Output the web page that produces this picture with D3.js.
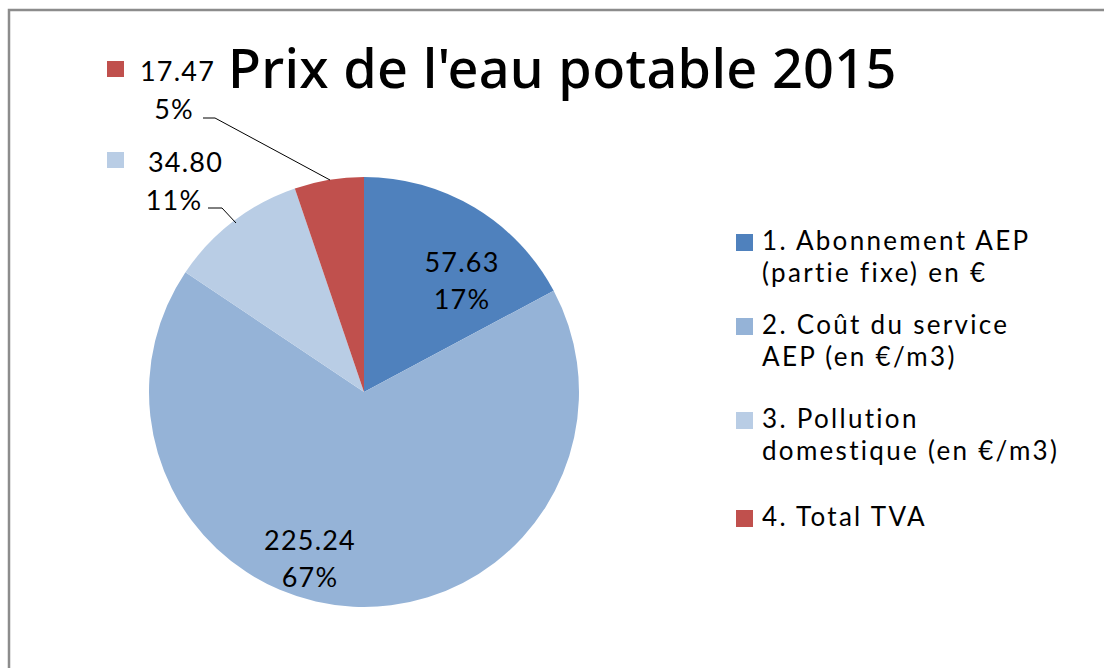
<!DOCTYPE html>
<html><head><meta charset="utf-8">
<script src="https://cdn.jsdelivr.net/npm/d3@7"></script>
<style>body{margin:0;background:#fff}text{font-family:Lato,"Noto Sans",sans-serif;fill:#000}</style>
</head><body>
<svg id="c" width="1104" height="668"></svg>
<script>
const title = "Prix de l'eau potable 2015";
const categories = ["1. Abonnement AEP|(partie fixe) en €", "2. Coût du service|AEP (en €/m3)", "3. Pollution|domestique (en €/m3)", "4. Total TVA"];
const values = [57.63, 225.24, 34.80, 17.47];
const valueLabels = ["57.63", "225.24", "34.80", "17.47"];
const pctLabels = ["17%", "67%", "11%", "5%"];
const colors = ["#4F81BD", "#95B3D7", "#B9CDE5", "#C0504D"];

const svg = d3.select("#c");
svg.append("rect").attr("x", 9).attr("y", 10).attr("width", 1200).attr("height", 800)
  .attr("fill", "#fff").attr("stroke", "#8c8c8c").attr("stroke-width", 2.5);

svg.append("text").attr("x", 228).attr("y", 88).attr("font-size", 54).attr("font-weight", 500)
  .style("font-family", "'Noto Sans',sans-serif").attr("letter-spacing", 0.3)
  .text(title);

const cx = 364, cy = 392, R = 215;
const pie = d3.pie().sort(null).value(d => d)(values);
const arc = d3.arc().innerRadius(0).outerRadius(R);
const g = svg.append("g").attr("transform", `translate(${cx},${cy})`);
g.selectAll("path").data(pie).join("path").attr("d", arc).attr("fill", (d, i) => colors[i]);

const fs = 27, ls = 1.2;
// inside labels
const inside = [
  {i: 0, x: 462, y: 272},
  {i: 1, x: 310, y: 550}
];
inside.forEach(o => {
  svg.append("text").attr("x", o.x).attr("y", o.y).attr("text-anchor", "middle").attr("font-size", fs).attr("letter-spacing", ls).text(valueLabels[o.i]);
  svg.append("text").attr("x", o.x).attr("y", o.y + 37).attr("text-anchor", "middle").attr("font-size", fs).attr("letter-spacing", ls).text(pctLabels[o.i]);
});
// outside labels with key squares and leader lines
const outside = [
  {i: 3, sx: 107, sy: 61, vx: 140, vy: 81, px: 174, py: 119, line: [[203,118],[215,118],[330,180]]},
  {i: 2, sx: 107, sy: 152, vx: 148, vy: 172, px: 174, py: 210, line: [[208,208],[222,208],[236,223]]}
];
outside.forEach(o => {
  svg.append("rect").attr("x", o.sx).attr("y", o.sy).attr("width", 17).attr("height", 16).attr("fill", colors[o.i]);
  svg.append("text").attr("x", o.vx).attr("y", o.vy).attr("font-size", fs).attr("letter-spacing", ls).text(valueLabels[o.i]);
  svg.append("text").attr("x", o.px).attr("y", o.py).attr("text-anchor", "middle").attr("font-size", fs).attr("letter-spacing", ls).text(pctLabels[o.i]);
  svg.append("path").attr("d", d3.line()(o.line)).attr("fill", "none").attr("stroke", "#000").attr("stroke-width", 1);
});

// legend
const legY = [250, 334, 428, 526];
categories.forEach((c, i) => {
  svg.append("rect").attr("x", 736).attr("y", legY[i] - 16).attr("width", 17).attr("height", 17).attr("fill", colors[i]);
  c.split("|").forEach((s, j) => svg.append("text").attr("font-size", 26).attr("letter-spacing", 2.3)
    .attr("x", 762).attr("y", legY[i] + j * 32).text(s));
});
</script>
</body></html>
